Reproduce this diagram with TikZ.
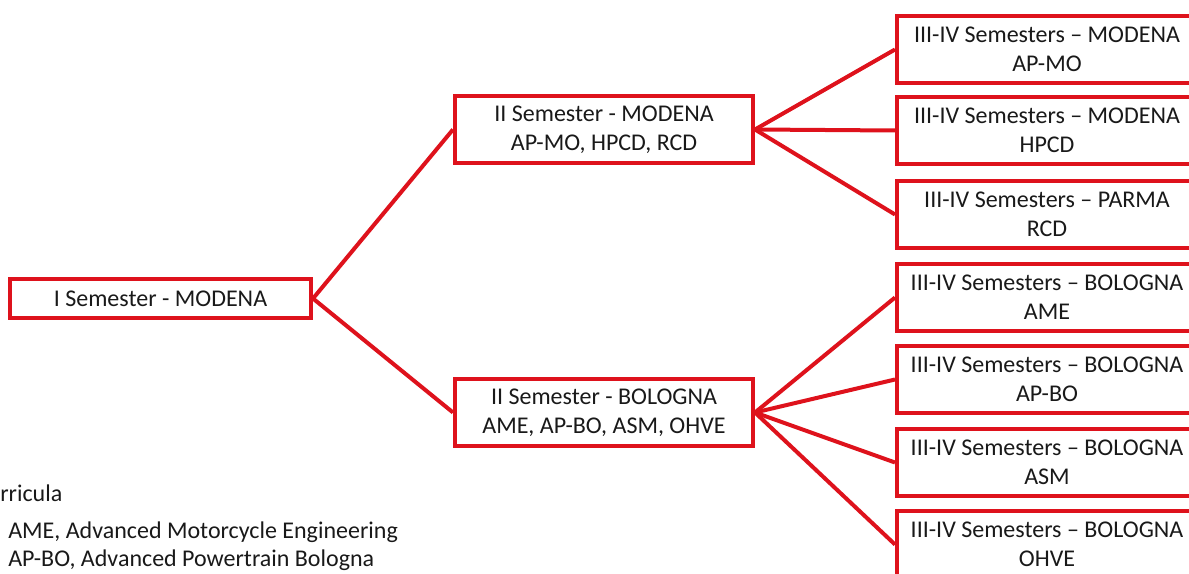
\documentclass[tikz,border=0pt]{standalone}
\usepackage{fontspec}
\setmainfont{Carlito}
\definecolor{boxred}{RGB}{222,18,28}
\definecolor{txt}{RGB}{25,25,25}
\begin{document}
\begin{tikzpicture}[x=0.75pt,y=-0.75pt,
  sembox/.style={draw=boxred,line width=3pt,fill=white,minimum height=67*0.75pt,inner sep=0pt,align=center,text=txt,font=\fontsize{18}{21.75}\selectfont},
  link/.style={draw=boxred,line width=3pt},
  legend/.style={anchor=west,inner sep=0pt,text=txt,font=\fontsize{18}{21.75}\selectfont}]
\useasboundingbox (0,0) rectangle (1189,574);
\clip (0,0) rectangle (1189,574);
\node[sembox,minimum width=301*0.75pt,minimum height=39*0.75pt] (s1) at (160.5,298.5) {I Semester - MODENA};
\node[sembox,minimum width=298*0.75pt] (mo) at (604,129.5) {II Semester - MODENA\\AP-MO, HPCD, RCD};
\node[sembox,minimum width=298*0.75pt] (bo) at (604,412.5) {II Semester - BOLOGNA\\AME, AP-BO, ASM, OHVE};
\node[sembox,minimum width=300*0.75pt] (r1) at (1047,49.5) {III-IV Semesters – MODENA\\AP-MO};
\node[sembox,minimum width=300*0.75pt] (r2) at (1047,130.5) {III-IV Semesters – MODENA\\HPCD};
\node[sembox,minimum width=300*0.75pt] (r3) at (1047,214.5) {III-IV Semesters – PARMA\\RCD};
\node[sembox,minimum width=300*0.75pt] (r4) at (1047,297.5) {III-IV Semesters – BOLOGNA\\AME};
\node[sembox,minimum width=300*0.75pt] (r5) at (1047,379.5) {III-IV Semesters – BOLOGNA\\AP-BO};
\node[sembox,minimum width=300*0.75pt] (r6) at (1047,462.5) {III-IV Semesters – BOLOGNA\\ASM};
\node[sembox,minimum width=300*0.75pt] (r7) at (1047,544.5) {III-IV Semesters – BOLOGNA\\OHVE};
\draw[link] (s1.east) -- (mo.west);
\draw[link] (s1.east) -- (bo.west);
\foreach \r in {r1,r2,r3} \draw[link] (mo.east) -- (\r.west);
\foreach \r in {r4,r5,r6,r7} \draw[link] (bo.east) -- (\r.west);
\node[legend] (lg0) at (0,493) {rricula};
\node[legend] (lg1) at (8,532) {AME, Advanced Motorcycle Engineering};
\node[legend] (lg2) at (8,560) {AP-BO, Advanced Powertrain Bologna};
\end{tikzpicture}
\end{document}
